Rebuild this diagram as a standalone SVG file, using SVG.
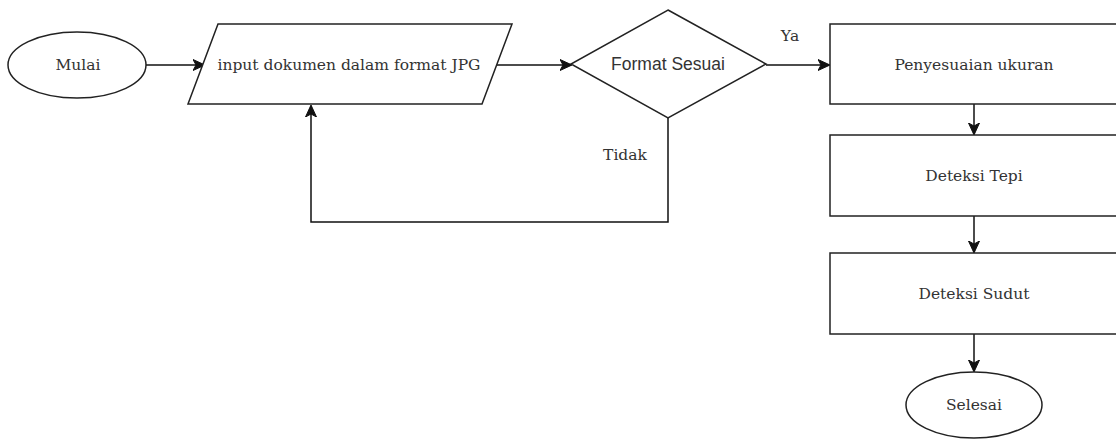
<svg xmlns="http://www.w3.org/2000/svg" width="1116" height="439" viewBox="0 0 1116 439">
  <style>
    .shape { fill: #ffffff; stroke: #222222; stroke-width: 1.5; }
    .edge { fill: none; stroke: #111111; stroke-width: 1.5; }
    .lbl { font-family: "DejaVu Serif", "Liberation Serif", serif; font-size: 15.5px; fill: #333333; text-anchor: middle; }
    .sans { font-family: "Liberation Sans", Arial, sans-serif; font-size: 17.5px; fill: #333333; text-anchor: middle; }
  </style>
  <defs>
    <marker id="arrow" viewBox="0 0 12 12" refX="11" refY="6" markerWidth="12" markerHeight="12" markerUnits="userSpaceOnUse" orient="auto">
      <path d="M0,0.5 L12,6 L0,11.5 L3,6 Z" fill="#111111" stroke="#111111" stroke-width="1"/>
    </marker>
  </defs>

  <!-- connectors -->
  <g id="connectors">
    <line class="edge" x1="146" y1="65" x2="204" y2="65" marker-end="url(#arrow)"/>
    <line class="edge" x1="497" y1="65" x2="571" y2="65" marker-end="url(#arrow)"/>
    <line class="edge" x1="766" y1="65" x2="829" y2="65" marker-end="url(#arrow)"/>
    <polyline class="edge" points="668,118 668,222 311,222 311,106" marker-end="url(#arrow)"/>
    <line class="edge" x1="974" y1="104" x2="974" y2="134" marker-end="url(#arrow)"/>
    <line class="edge" x1="974" y1="216" x2="974" y2="252" marker-end="url(#arrow)"/>
    <line class="edge" x1="974" y1="334" x2="974" y2="371" marker-end="url(#arrow)"/>
    <text class="lbl" x="790" y="41">Ya</text>
    <text class="lbl" x="625" y="160">Tidak</text>
  </g>

  <g id="mulai">
    <ellipse class="shape" cx="77" cy="65" rx="69" ry="33"/>
    <text class="lbl" x="78" y="70">Mulai</text>
  </g>

  <g id="input">
    <polygon class="shape" points="218,24 512,24 482,104 188,104"/>
    <text class="lbl" x="349" y="70">input dokumen dalam format JPG</text>
  </g>

  <g id="format-sesuai">
    <polygon class="shape" points="668,10 766,64 668,118 571,64"/>
    <text class="sans" x="668" y="70">Format Sesuai</text>
  </g>

  <g id="penyesuaian">
    <rect class="shape" x="830" y="24" width="290" height="80"/>
    <text class="lbl" x="974" y="70">Penyesuaian ukuran</text>
  </g>

  <g id="deteksi-tepi">
    <rect class="shape" x="830" y="135" width="290" height="81"/>
    <text class="lbl" x="974" y="181">Deteksi Tepi</text>
  </g>

  <g id="deteksi-sudut">
    <rect class="shape" x="830" y="253" width="290" height="81"/>
    <text class="lbl" x="974" y="299">Deteksi Sudut</text>
  </g>

  <g id="selesai">
    <ellipse class="shape" cx="974" cy="405" rx="68" ry="33"/>
    <text class="lbl" x="974" y="410">Selesai</text>
  </g>
</svg>
